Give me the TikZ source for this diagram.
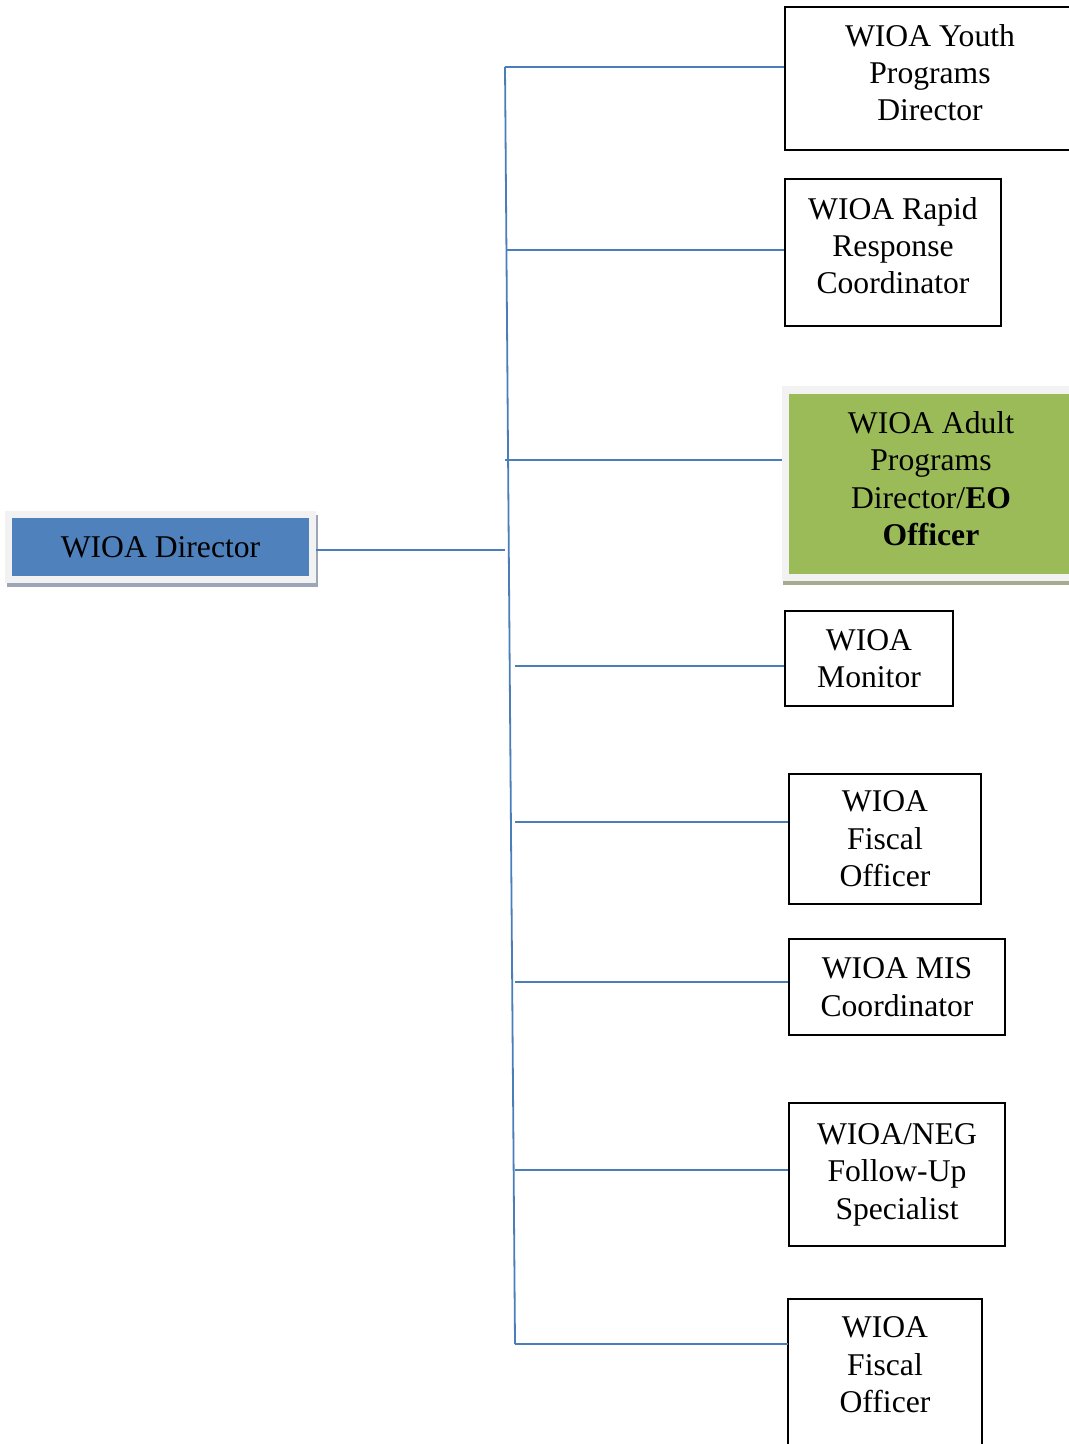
\documentclass[tikz,border=0pt]{standalone}
\usepackage{fontspec}
\setmainfont{Liberation Serif}
\usetikzlibrary{backgrounds}
\usetikzlibrary{calc}
\definecolor{wioablue}{HTML}{4F81BD}
\definecolor{wioaline}{HTML}{4A7EBB}
\definecolor{wioagreen}{HTML}{9BBB59}
\definecolor{wioaframe}{HTML}{F2F2F2}
\definecolor{blueshade}{HTML}{9CA6B8}
\definecolor{greenshade}{HTML}{A6AD8E}
\tikzstyle{postbox}=[rectangle,draw=black,line width=0.05cm,align=center,inner sep=0pt,font=\fontsize{22.5}{26.6}\selectfont]
\tikzstyle{headbox}=[postbox,draw=wioaframe,line width=0.175cm,fill=wioablue]
\tikzstyle{greenbox}=[postbox,draw=wioaframe,line width=0.175cm,fill=wioagreen]
\tikzstyle{branch}=[draw=wioaline,line width=0.045cm]

\begin{document}
\begin{tikzpicture}[x=0.025cm,y=-0.025cm]
  \def\u{0.025cm}
  \useasboundingbox (0,0) rectangle (1068,1444);

% Head
  \node[headbox,minimum width=304*\u,minimum height=65*\u] (dir) at (160.5,547) {WIOA Director};

% Posts
  \foreach \pos/\name/\w/\h/\lift/\txt in {{(930,78.5)/yd/290/143/8.5/{WIOA Youth\\Programs\\Director}},
      {(893,252.5)/rr/216/147/10/{WIOA Rapid\\Response\\Coordinator}},
      {(869,658.5)/mo/168/95/0/{WIOA\\Monitor}},
      {(885,839)/fo/192/130/0/{WIOA\\Fiscal\\Officer}},
      {(897,987)/mc/216/96/0/{WIOA MIS\\Coordinator}},
      {(897,1174.5)/ng/216/143/1.5/{WIOA/NEG\\Follow-Up\\Specialist}}}
    \node[postbox,minimum width=\w*\u,minimum height=\h*\u] (\name) at \pos {\txt\rule[-\lift pt]{0pt}{0pt}};

  \node[greenbox,minimum width=291*\u,minimum height=187*\u] (ad) at (931,483.5)
    {WIOA Adult\\Programs\\Director/\textbf{EO}\\\textbf{Officer}\rule[-7pt]{0pt}{0pt}};

  % last box runs off the page
  \node[postbox,draw=none,minimum width=192*\u,minimum height=130*\u] (fb) at (885,1365) {WIOA\\Fiscal\\Officer};
  \draw[line width=0.05cm] ([yshift=-1cm]fb.south west) |- (fb.north east) -- ([yshift=-1cm]fb.south east);

  % shadows
  \begin{scope}[on background layer]
    \fill[blueshade] ([shift={(0.06cm,-0.1cm)}]dir.south west) rectangle ([shift={(0.06cm,-0.1cm)}]dir.north east);
    \fill[greenshade] ([shift={(0.03cm,-0.12cm)}]ad.south west) rectangle ([shift={(0.03cm,-0.12cm)}]ad.north east);
  \end{scope}

% Connectors
  \coordinate (top) at (505,67);
  \coordinate (bot) at (515,1344);
  \coordinate (dj) at (505,550);
  \path[branch] (top) -- (bot);
  \path[branch] (dir.east |- dj) -- (dj);

  \foreach \x/\y/\dest in {505/67/yd, 506/250/rr, 505/460/ad, 515/666/mo,
      515/822/fo, 515/982/mc, 515/1170/ng, 515/1344/fb}
  {
    \coordinate (s\dest) at (\x,\y);
    \path[branch] (s\dest) -- (s\dest -| \dest.west);
  }

\end{tikzpicture}
\end{document}
